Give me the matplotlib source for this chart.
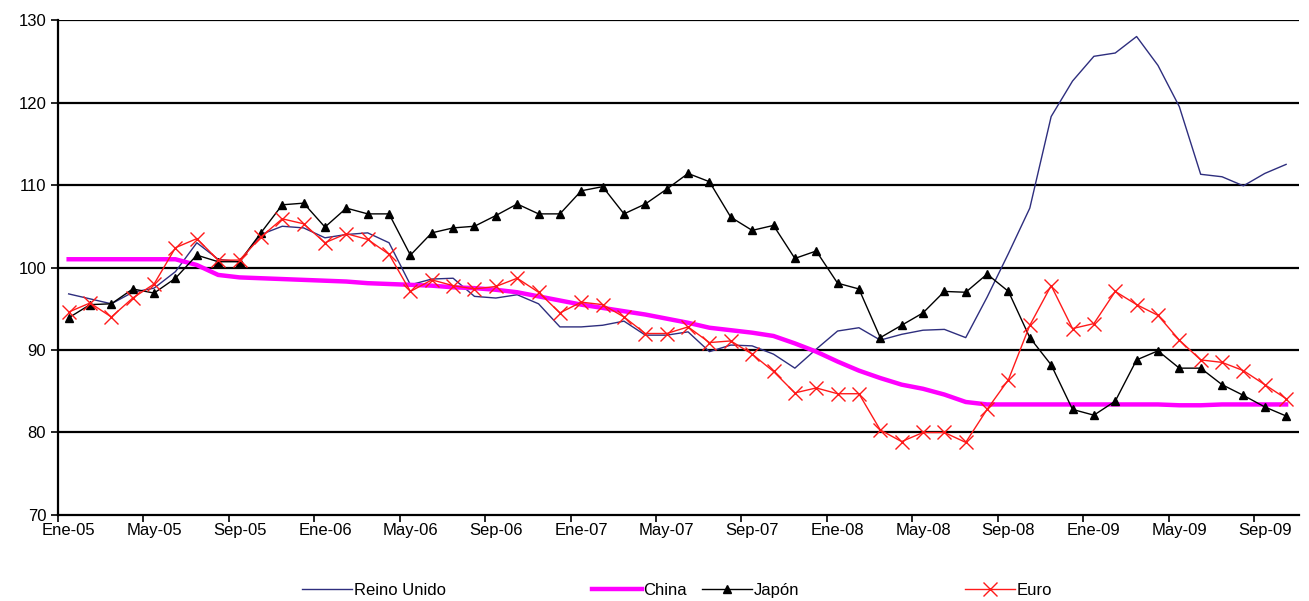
import numpy as np
import matplotlib
matplotlib.use("Agg")
from matplotlib import pyplot as plt

plt.rcParams['font.family'] = ['Liberation Sans', 'DejaVu Sans']

MONTHS = ['Ene', 'Feb', 'Mar', 'Abr', 'May', 'Jun', 'Jul', 'Ago', 'Sep', 'Oct', 'Nov', 'Dic']
months = ['%s-%02d' % (MONTHS[i % 12], 5 + i // 12) for i in range(58)]

reino_unido = [96.8, 96.2, 95.6, 97.0, 97.5, 99.5, 103.0, 101.0, 100.7, 104.0,
               105.0, 104.8, 103.6, 104.0, 104.2, 103.0, 97.9, 98.6, 98.7, 96.5,
               96.3, 96.7, 95.6, 92.8, 92.8, 93.0, 93.5, 91.8, 91.8, 92.2,
               89.8, 90.6, 90.5, 89.5, 87.8, 90.1, 92.3, 92.7, 91.2, 91.9,
               92.4, 92.5, 91.5, 96.4, 101.7, 107.2, 118.3, 122.6, 125.6, 126.0,
               128.0, 124.5, 119.5, 111.3, 111.0, 109.9, 111.4, 112.5]

china = [101.0, 101.0, 101.0, 101.0, 101.0, 101.0, 100.3, 99.1, 98.8, 98.7,
         98.6, 98.5, 98.4, 98.3, 98.1, 98.0, 97.9, 97.8, 97.6, 97.5,
         97.3, 97.0, 96.5, 96.0, 95.5, 95.1, 94.7, 94.3, 93.8, 93.3,
         92.7, 92.4, 92.1, 91.7, 90.8, 89.8, 88.6, 87.5, 86.6, 85.8,
         85.3, 84.6, 83.7, 83.4, 83.4, 83.4, 83.4, 83.4, 83.4, 83.4,
         83.4, 83.4, 83.3, 83.3, 83.4, 83.4, 83.4, 83.4]

japon = [93.9, 95.5, 95.6, 97.4, 96.9, 98.7, 101.5, 100.7, 100.7, 104.2,
         107.6, 107.8, 104.9, 107.2, 106.5, 106.5, 101.5, 104.2, 104.8, 105.0,
         106.3, 107.7, 106.5, 106.5, 109.3, 109.8, 106.5, 107.7, 109.5, 111.4,
         110.4, 106.1, 104.5, 105.1, 101.1, 102.0, 98.1, 97.4, 91.5, 93.0,
         94.5, 97.1, 97.0, 99.2, 97.1, 91.5, 88.2, 82.8, 82.1, 83.8,
         88.8, 89.9, 87.8, 87.8, 85.8, 84.5, 83.1, 82.0]

euro = [94.6, 95.7, 94.0, 96.3, 98.0, 102.4, 103.5, 100.9, 100.9, 103.7,
        105.9, 105.3, 103.0, 104.1, 103.4, 101.6, 97.1, 98.5, 97.8, 97.4,
        97.7, 98.7, 97.0, 94.5, 95.8, 95.5, 94.0, 92.0, 92.0, 92.8,
        90.9, 91.1, 89.5, 87.4, 84.8, 85.4, 84.7, 84.7, 80.3, 78.9,
        80.0, 80.0, 78.8, 82.8, 86.4, 93.0, 97.8, 92.6, 93.2, 97.1,
        95.5, 94.2, 91.2, 88.8, 88.5, 87.5, 85.8, 84.1]

x = np.arange(len(months))

fig = plt.figure(figsize=(13.09, 6.01), dpi=100)
ax = fig.add_axes([0.0443, 0.1431, 0.948, 0.8236])

for v in range(80, 131, 10):
    ax.axhline(v, color='black', lw=1.6, zorder=0)

l_uk, = ax.plot(x, reino_unido, color='#2e2e7e', lw=1.0)
l_cn, = ax.plot(x, china, color='#ff00ff', lw=3.2)
l_jp, = ax.plot(x, japon, color='black', lw=1.0, marker='^', markersize=6)
l_eu, = ax.plot(x, euro, color='#ff1a1a', lw=1.0, marker='x', markersize=10,
                markeredgewidth=1.0)

ax.set_xlim(-0.4, 57.6)
ax.set_ylim(70, 130)
ax.set_yticks(range(70, 131, 10))
ax.set_xticks(x[::4])
ax.set_xticklabels(months[::4])
ax.set_xticks(np.arange(-0.5, 58, 4), minor=True)
ax.tick_params(axis='x', which='major', length=0, pad=6, labelsize=12)
ax.tick_params(axis='x', which='minor', length=5, width=1.2)
ax.tick_params(axis='y', length=5, width=1.2, labelsize=12)

for s in ['top', 'right']:
    ax.spines[s].set_visible(False)
ax.spines['left'].set_linewidth(1.6)
ax.spines['bottom'].set_linewidth(1.6)

# legend entries sit at uneven spots like the original
entries = [(l_uk, 'Reino Unido', 0.231), (l_cn, 'China', 0.452),
           (l_jp, 'Japón', 0.536), (l_eu, 'Euro', 0.737)]
for h, lab, xpos in entries:
    fig.legend([h], [lab], loc='center left', bbox_to_anchor=(xpos, 0.018),
               frameon=False, fontsize=12, handlelength=3.0, handletextpad=0.1,
               borderaxespad=0, borderpad=0)

fig.savefig('out.png', dpi=100)
